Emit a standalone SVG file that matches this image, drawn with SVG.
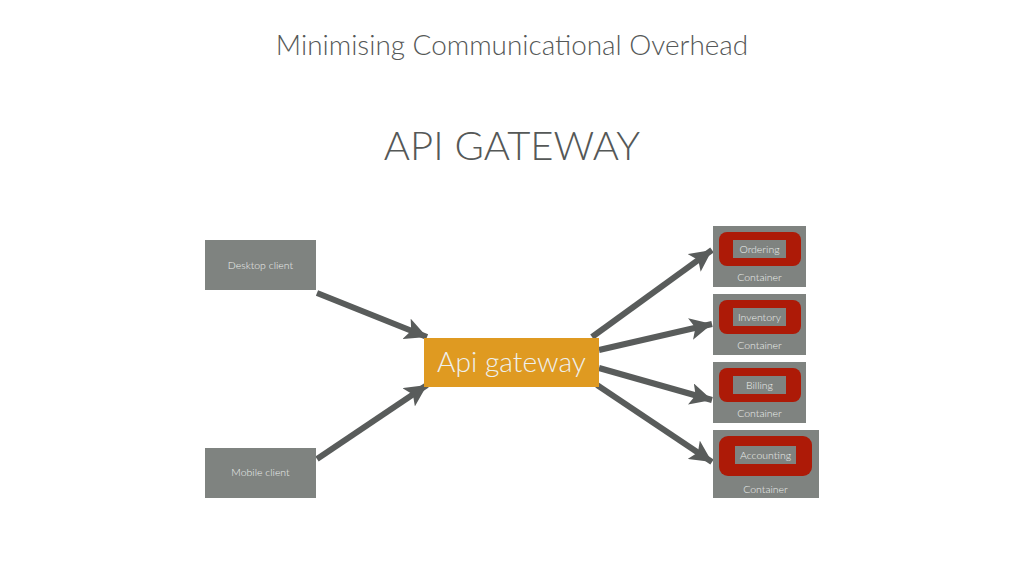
<svg xmlns="http://www.w3.org/2000/svg" width="1024" height="576" viewBox="0 0 1024 576">
<style>
.t{font-family:Lato,"Open Sans",sans-serif;fill:#555857;font-weight:300}
.box{fill:#7f8380}
.lbl{font-family:Lato,"Open Sans",sans-serif;fill:#eef0ee;text-anchor:middle;font-weight:300}
.red{fill:#ad1a07}
.in{fill:#7f8380}
.con{stroke:#595c5b;stroke-width:6;fill:none;marker-end:url(#ah)}
</style>
<defs>
<marker id="ah" markerUnits="userSpaceOnUse" markerWidth="24" markerHeight="22" refX="22" refY="11" orient="auto">
<path d="M0,0 L22,11 L0,22 L5,11 Z" fill="#595c5b"/>
</marker>
</defs>
<rect width="1024" height="576" fill="#ffffff"/>
<text class="t" x="512" y="55" font-size="27.9" text-anchor="middle">Minimising Communicational Overhead</text>
<text class="t" x="512" y="160" font-size="40" text-anchor="middle">API GATEWAY</text>
<g id="connectors">
<line class="con" x1="317" y1="293" x2="427" y2="337"/>
<line class="con" x1="317" y1="459" x2="427" y2="385"/>
<line class="con" x1="592" y1="337" x2="712" y2="250"/>
<line class="con" x1="599" y1="350" x2="712" y2="324"/>
<line class="con" x1="599" y1="368" x2="712" y2="400"/>
<line class="con" x1="597" y1="385" x2="712" y2="462"/>
</g>
<g id="desktop">
<rect class="box" x="205" y="240" width="111" height="50"/>
<text class="lbl" x="260.5" y="269" font-size="10.5">Desktop client</text>
</g>
<g id="mobile">
<rect class="box" x="205" y="448" width="111" height="50"/>
<text class="lbl" x="260.5" y="476" font-size="10.5">Mobile client</text>
</g>
<g id="gateway">
<rect x="424" y="338" width="175" height="49" fill="#df9a21"/>
<text class="lbl" x="511.5" y="372" font-size="28.2" fill="#ffffff">Api gateway</text>
</g>
<g id="ordering">
<rect class="box" x="713" y="226" width="93" height="61"/>
<rect class="red" x="719" y="232" width="82" height="34" rx="8"/>
<rect class="in" x="733" y="240" width="53" height="18"/>
<text class="lbl" x="759.5" y="253" font-size="10.5">Ordering</text>
<text class="lbl" x="759.5" y="281" font-size="10.5">Container</text>
</g>
<g id="inventory">
<rect class="box" x="713" y="294" width="93" height="61"/>
<rect class="red" x="719" y="300" width="82" height="34" rx="8"/>
<rect class="in" x="733" y="308" width="53" height="18"/>
<text class="lbl" x="759.5" y="321" font-size="10.5">Inventory</text>
<text class="lbl" x="759.5" y="349" font-size="10.5">Container</text>
</g>
<g id="billing">
<rect class="box" x="713" y="362" width="93" height="61"/>
<rect class="red" x="719" y="368" width="82" height="34" rx="8"/>
<rect class="in" x="733" y="376" width="53" height="18"/>
<text class="lbl" x="759.5" y="389" font-size="10.5">Billing</text>
<text class="lbl" x="759.5" y="417" font-size="10.5">Container</text>
</g>
<g id="accounting">
<rect class="box" x="713" y="430" width="106" height="68"/>
<rect class="red" x="719" y="436" width="93" height="40" rx="9"/>
<rect class="in" x="735" y="446" width="61" height="18"/>
<text class="lbl" x="765.5" y="459" font-size="10.5">Accounting</text>
<text class="lbl" x="765.5" y="493" font-size="10.5">Container</text>
</g>
</svg>
